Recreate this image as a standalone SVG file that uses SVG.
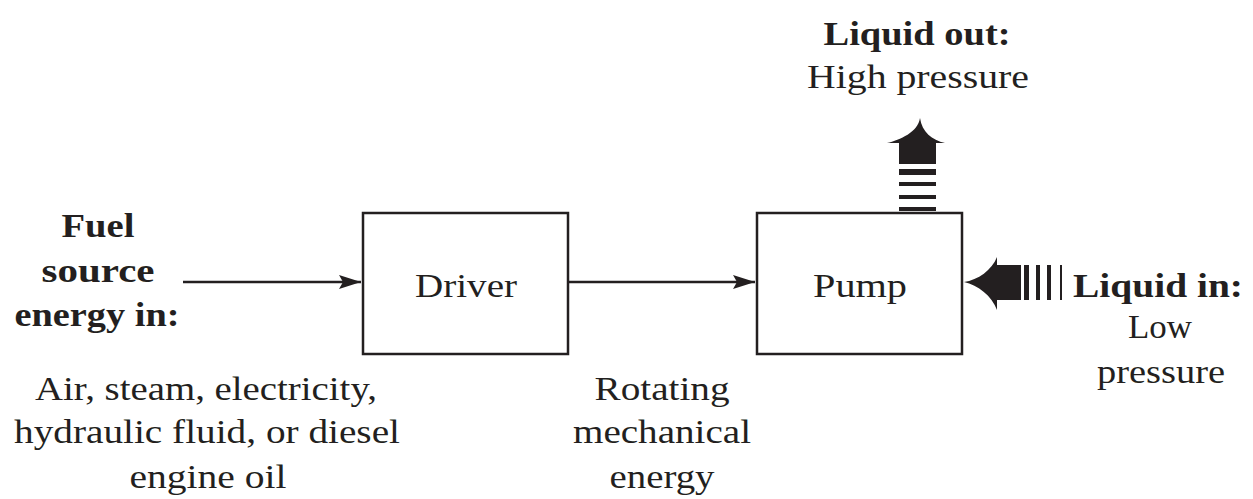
<svg xmlns="http://www.w3.org/2000/svg" width="1253" height="499" viewBox="0 0 1253 499">
<style>
.t{font-family:"Liberation Serif","Times New Roman",serif;font-size:33px;fill:#231f20;text-anchor:middle}
.b{font-weight:bold}
.box{fill:#fff;stroke:#231f20;stroke-width:2.5}
.ln{stroke:#231f20;stroke-width:2.5;fill:none}
.k{fill:#231f20}
</style>
<defs>
<marker id="ah" markerWidth="22" markerHeight="16" refX="22" refY="8" orient="auto" markerUnits="userSpaceOnUse">
<path d="M0,1 L22,8 L0,15 L4,8 Z" fill="#231f20"/>
</marker>
</defs>
<rect width="1253" height="499" fill="#fff"/>
<g id="connectors">
<line class="ln" x1="183" y1="282" x2="361" y2="282" marker-end="url(#ah)"/>
<line class="ln" x1="569" y1="282" x2="755" y2="282" marker-end="url(#ah)"/>
<g id="out-arrow">
<path class="k" d="M920,118 C918,132 900,140 887,143 L899,143 L899,164 L936,164 L936,143 L945,143 C932,140 922,132 920,118 Z"/>
<rect class="k" x="899" y="169" width="37" height="6"/>
<rect class="k" x="899" y="182" width="37" height="4"/>
<rect class="k" x="899" y="195" width="37" height="4"/>
<rect class="k" x="899" y="207" width="37" height="4"/>
</g>
<g id="in-arrow">
<path class="k" d="M964,282 C978,280 992,270 997,257 L997,265 L1021,265 L1021,300 L997,300 L997,310 C992,296 978,285 964,282 Z"/>
<rect class="k" x="1024" y="265" width="5" height="35"/>
<rect class="k" x="1036" y="265" width="4" height="35"/>
<rect class="k" x="1047" y="265" width="4" height="35"/>
<rect class="k" x="1060" y="265" width="2" height="35"/>
</g>
</g>
<g id="driver">
<rect class="box" x="363" y="213" width="205" height="141"/>
<text class="t" x="466" y="297" textLength="102" lengthAdjust="spacingAndGlyphs">Driver</text>
</g>
<g id="pump">
<rect class="box" x="757" y="213" width="205" height="141"/>
<text class="t" x="860" y="297" textLength="94" lengthAdjust="spacingAndGlyphs">Pump</text>
</g>
<g id="fuel">
<text class="t b" x="98" y="237" textLength="73" lengthAdjust="spacingAndGlyphs">Fuel</text>
<text class="t b" x="98" y="282" textLength="113" lengthAdjust="spacingAndGlyphs">source</text>
<text class="t b" x="97" y="326" textLength="165" lengthAdjust="spacingAndGlyphs">energy in:</text>
</g>
<g id="fuel-desc">
<text class="t" x="206" y="400" textLength="342" lengthAdjust="spacingAndGlyphs">Air, steam, electricity,</text>
<text class="t" x="207" y="443" textLength="386" lengthAdjust="spacingAndGlyphs">hydraulic fluid, or diesel</text>
<text class="t" x="208" y="488" textLength="157" lengthAdjust="spacingAndGlyphs">engine oil</text>
</g>
<g id="rotating">
<text class="t" x="662" y="400" textLength="135" lengthAdjust="spacingAndGlyphs">Rotating</text>
<text class="t" x="662" y="443" textLength="178" lengthAdjust="spacingAndGlyphs">mechanical</text>
<text class="t" x="662" y="488" textLength="105" lengthAdjust="spacingAndGlyphs">energy</text>
</g>
<g id="liquid-out">
<text class="t b" x="917" y="45" textLength="187" lengthAdjust="spacingAndGlyphs">Liquid out:</text>
<text class="t" x="918" y="88" textLength="222" lengthAdjust="spacingAndGlyphs">High pressure</text>
</g>
<g id="liquid-in">
<text class="t b" x="1073" y="297" style="text-anchor:start" textLength="170" lengthAdjust="spacingAndGlyphs">Liquid in:</text>
<text class="t" x="1160" y="338" textLength="64" lengthAdjust="spacingAndGlyphs">Low</text>
<text class="t" x="1161" y="383" textLength="128" lengthAdjust="spacingAndGlyphs">pressure</text>
</g>
</svg>
